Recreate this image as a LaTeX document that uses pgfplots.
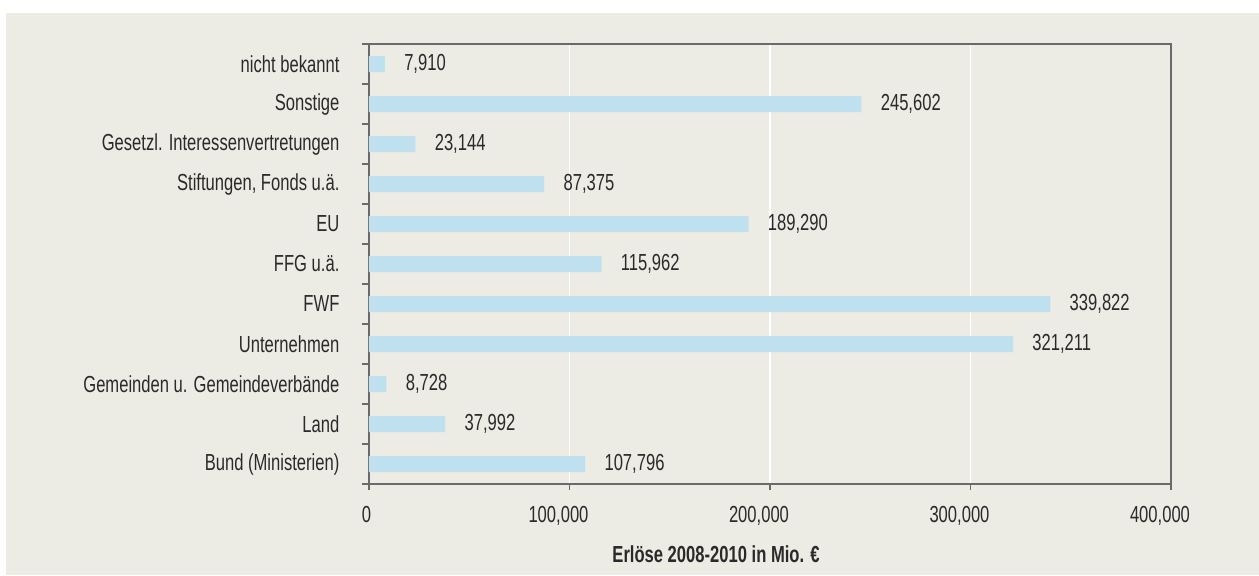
\documentclass[border=0pt]{standalone}
\usepackage{pgfplots}
\pgfplotsset{compat=1.18}
\usepackage{fontspec}
\setmainfont{Liberation Sans}[FakeStretch=0.715]
\definecolor{bg}{HTML}{ECEBE4}
\definecolor{barc}{HTML}{BEE0EF}
\definecolor{txt}{HTML}{2A2A2A}
\definecolor{axc}{HTML}{6A6A6A}
\newcommand\cf{\fontsize{11.6}{13.9}\selectfont}
\begin{document}
\begin{tikzpicture}
\fill[white] (0,0) rectangle (629.5pt,287.5pt);
\fill[bg] (3pt,0) rectangle (629.5pt,281pt);
\begin{axis}[
  at={(184.5pt,45.5pt)}, anchor=south west,
  scale only axis, width=401pt, height=220pt,
  xbar, bar width=8pt,
  xmin=0, xmax=400000, ymin=-0.5, ymax=10.5,
  axis line style={draw=axc, line width=0.9pt},
  scaled x ticks=false,
  xtick={0,100000,200000,300000,400000},
  xticklabels={\hspace*{8.5pt}0, {100,000}, {200,000}, {300,000}, {400,000}},
  ytick={0,...,10},
  yticklabels={Bund (Ministerien), Land, Gemeinden u. Gemeindeverbände, Unternehmen, FWF, FFG u.ä., EU, {Stiftungen, Fonds u.ä.}, Gesetzl. Interessenvertretungen, Sonstige, nicht bekannt},
  minor ytick={-0.5,0.5,...,10.5},
  major y tick style={draw=none},
  tick align=outside, xtick pos=bottom, ytick pos=left,
  major tick length=3pt, minor tick length=3.5pt,
  tick style={draw=axc, line width=0.8pt},
  xmajorgrids, major x grid style={draw=white, line width=0.7pt},
  tick label style={font=\cf, text=txt, inner sep=0pt},
  yticklabel style={anchor=east, xshift=-11.6pt},
  xticklabel style={anchor=north, yshift=-8pt, xshift=-5.5pt},
  xlabel={Erlöse 2008-2010 in Mio. €},
  xlabel style={at={(axis description cs:0.4327,-0.1773)}, anchor=base, font=\cf\bfseries, text=txt, inner sep=0pt},
  point meta=x,
  nodes near coords={\pgfmathprintnumber[fixed, precision=0, 1000 sep={,}, assume math mode=true]{\pgfplotspointmeta}},
  every node near coord/.append style={anchor=west, inner sep=0pt, xshift=9.5pt, font=\cf, text=txt},
]
\addplot[fill=barc, draw=none] coordinates {
(107796,0) (37992,1) (8728,2) (321211,3) (339822,4) (115962,5) (189290,6) (87375,7) (23144,8) (245602,9) (7910,10)};
\end{axis}
\end{tikzpicture}
\end{document}
